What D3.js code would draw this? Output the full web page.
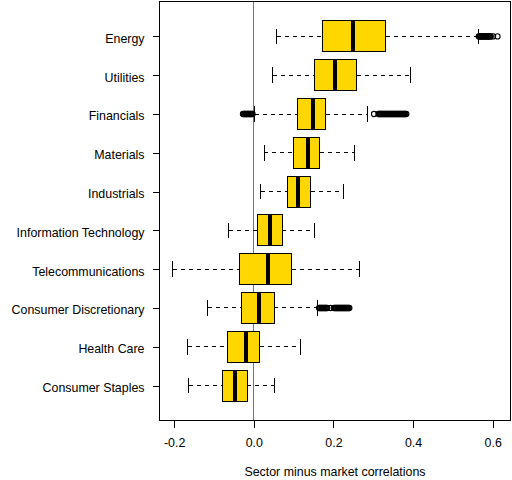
<!DOCTYPE html>
<html>
<head>
<meta charset="utf-8">
<script src="https://cdn.jsdelivr.net/npm/d3@7"></script>
<style>
  body { margin: 0; background: #fff; }
  svg { display: block; font-family: "Liberation Sans", Arial, sans-serif; }
  line, rect { shape-rendering: crispEdges; }
</style>
</head>
<body>
<svg id="chart" width="512" height="480"></svg>
<script>
// sectors, top of chart first
var sectors = ["Energy", "Utilities", "Financials", "Materials", "Industrials",
  "Information Technology", "Telecommunications", "Consumer Discretionary",
  "Health Care", "Consumer Staples"];

// box stats
var whiskerLo = [0.058, 0.048, 0.002, 0.026, 0.017, -0.063, -0.204, -0.115, -0.166, -0.163];
var q1 =        [0.173, 0.153, 0.110, 0.100, 0.085, 0.010, -0.036, -0.031, -0.066, -0.078];
var medians =   [0.250, 0.203, 0.148, 0.135, 0.112, 0.041, 0.037, 0.012, -0.019, -0.046];
var q3 =        [0.332, 0.259, 0.181, 0.166, 0.143, 0.071, 0.096, 0.051, 0.015, -0.016];
var whiskerHi = [0.564, 0.394, 0.286, 0.253, 0.225, 0.153, 0.265, 0.160, 0.118, 0.052];

// outliers (open circles), dense runs read as solid bars
var outliers = [
  [0.565, 0.567, 0.569, 0.571, 0.573, 0.575, 0.577, 0.579, 0.581, 0.583, 0.585,
   0.587, 0.589, 0.591, 0.593, 0.595, 0.601, 0.612],
  [],
  [-0.027, -0.025, -0.023, -0.021, -0.019, -0.017, -0.015, -0.013, -0.011, -0.009,
   -0.007, -0.005, -0.003,
   0.302, 0.313, 0.315, 0.317, 0.319, 0.321, 0.323, 0.325, 0.327, 0.329, 0.331,
   0.333, 0.335, 0.337, 0.339, 0.341, 0.343, 0.345, 0.347, 0.349, 0.351, 0.353,
   0.355, 0.357, 0.359, 0.361, 0.363, 0.365, 0.367, 0.369, 0.371, 0.373, 0.375,
   0.377, 0.379, 0.381, 0.383],
  [],
  [],
  [],
  [],
  [0.164, 0.166, 0.168, 0.170, 0.172, 0.174, 0.176, 0.178, 0.180, 0.182, 0.1845,
   0.193, 0.2015, 0.204, 0.206, 0.208, 0.210, 0.212, 0.214, 0.216, 0.218, 0.220,
   0.222, 0.224, 0.226, 0.228, 0.230, 0.232, 0.234, 0.236, 0.238, 0.240],
  [],
  []
];

var xTicks = [-0.2, 0.0, 0.2, 0.4, 0.6];
var xTitle = "Sector minus market correlations";

(function() {
  var svg = d3.select("#chart");
  var pLeft = 159.5, pRight = 510.5, pTop = 1.5, pBottom = 420.5;
  var n = sectors.length;
  var fontSize = 12.4;

  // R style 4% padding on the value range
  var lo = d3.min(whiskerLo.concat(d3.merge(outliers)));
  var hi = d3.max(whiskerHi.concat(d3.merge(outliers)));
  var pad = (hi - lo) * 0.04;
  var xScale = d3.scaleLinear().domain([lo - pad, hi + pad]).range([pLeft, pRight]);
  var yScale = d3.scaleLinear().domain([0.1, n + 0.9]).range([pBottom, pTop]);

  var boxH = yScale(0) - yScale(0.8);
  var data = sectors.map(function(s, i) {
    return { name: s, pos: n - i, lo: whiskerLo[i], q1: q1[i], med: medians[i],
      q3: q3[i], hi: whiskerHi[i], out: outliers[i] };
  });

  // zero line, drawn under the boxes
  svg.append("line")
    .attr("x1", xScale(0)).attr("x2", xScale(0))
    .attr("y1", pTop).attr("y2", pBottom)
    .attr("stroke", "#4682B4").attr("stroke-width", 1);

  var g = svg.selectAll(".box").data(data).enter().append("g").attr("class", "box");

  // whiskers
  g.append("line")
    .attr("x1", d => xScale(d.lo)).attr("x2", d => xScale(d.q1))
    .attr("y1", d => yScale(d.pos)).attr("y2", d => yScale(d.pos))
    .attr("stroke", "#000").attr("stroke-dasharray", "4,4");
  g.append("line")
    .attr("x1", d => xScale(d.q3)).attr("x2", d => xScale(d.hi))
    .attr("y1", d => yScale(d.pos)).attr("y2", d => yScale(d.pos))
    .attr("stroke", "#000").attr("stroke-dasharray", "4,4");

  // staples
  ["lo", "hi"].forEach(function(k) {
    g.append("line")
      .attr("x1", d => xScale(d[k])).attr("x2", d => xScale(d[k]))
      .attr("y1", d => yScale(d.pos) - boxH / 4).attr("y2", d => yScale(d.pos) + boxH / 4)
      .attr("stroke", "#000");
  });

  // boxes
  g.append("rect")
    .attr("x", d => xScale(d.q1))
    .attr("width", d => xScale(d.q3) - xScale(d.q1))
    .attr("y", d => yScale(d.pos) - boxH / 2)
    .attr("height", boxH)
    .attr("fill", "#FFD700").attr("stroke", "#000").attr("stroke-width", 1);

  // medians
  g.append("line")
    .attr("x1", d => xScale(d.med)).attr("x2", d => xScale(d.med))
    .attr("y1", d => yScale(d.pos) - boxH / 2).attr("y2", d => yScale(d.pos) + boxH / 2)
    .attr("stroke", "#000").attr("stroke-width", 4);

  // outliers
  g.selectAll("circle")
    .data(d => d.out.map(v => ({ v: v, pos: d.pos })))
    .enter().append("circle")
    .attr("cx", d => xScale(d.v)).attr("cy", d => yScale(d.pos))
    .attr("r", 2.6)
    .attr("fill", "none").attr("stroke", "#000").attr("stroke-width", 1.1);

  // frame
  svg.append("rect")
    .attr("x", pLeft).attr("y", pTop)
    .attr("width", pRight - pLeft).attr("height", pBottom - pTop)
    .attr("fill", "none").attr("stroke", "#000").attr("stroke-width", 1);

  // x axis
  var xAxis = svg.append("g")
    .attr("transform", "translate(0," + pBottom + ")")
    .call(d3.axisBottom(xScale).tickValues(xTicks)
      .tickFormat(v => v.toFixed(1))
      .tickSize(7).tickPadding(11));
  xAxis.select(".domain")
    .attr("d", "M" + xScale(xTicks[0]) + ",0H" + xScale(xTicks[xTicks.length - 1]))
    .attr("shape-rendering", "crispEdges");
  xAxis.selectAll("text").attr("font-size", fontSize).attr("font-family", null).attr("fill", "#000");
  xAxis.selectAll("line").attr("stroke", "#000");
  xAxis.select(".domain").attr("stroke", "#000");

  // y axis
  var yAxis = svg.append("g")
    .attr("transform", "translate(" + pLeft + ",0)")
    .call(d3.axisLeft(yScale).tickValues(data.map(d => d.pos))
      .tickFormat(p => sectors[n - p]).tickSize(7).tickPadding(8));
  yAxis.select(".domain").remove();
  yAxis.selectAll("text").attr("font-size", fontSize).attr("font-family", null)
    .attr("fill", "#000").attr("dy", "0.47em");
  yAxis.selectAll("line").attr("stroke", "#000");

  // axis title
  svg.append("text")
    .attr("x", (pLeft + pRight) / 2).attr("y", 475.5)
    .attr("text-anchor", "middle").attr("font-size", fontSize)
    .text(xTitle);
})();
</script>
</body>
</html>
